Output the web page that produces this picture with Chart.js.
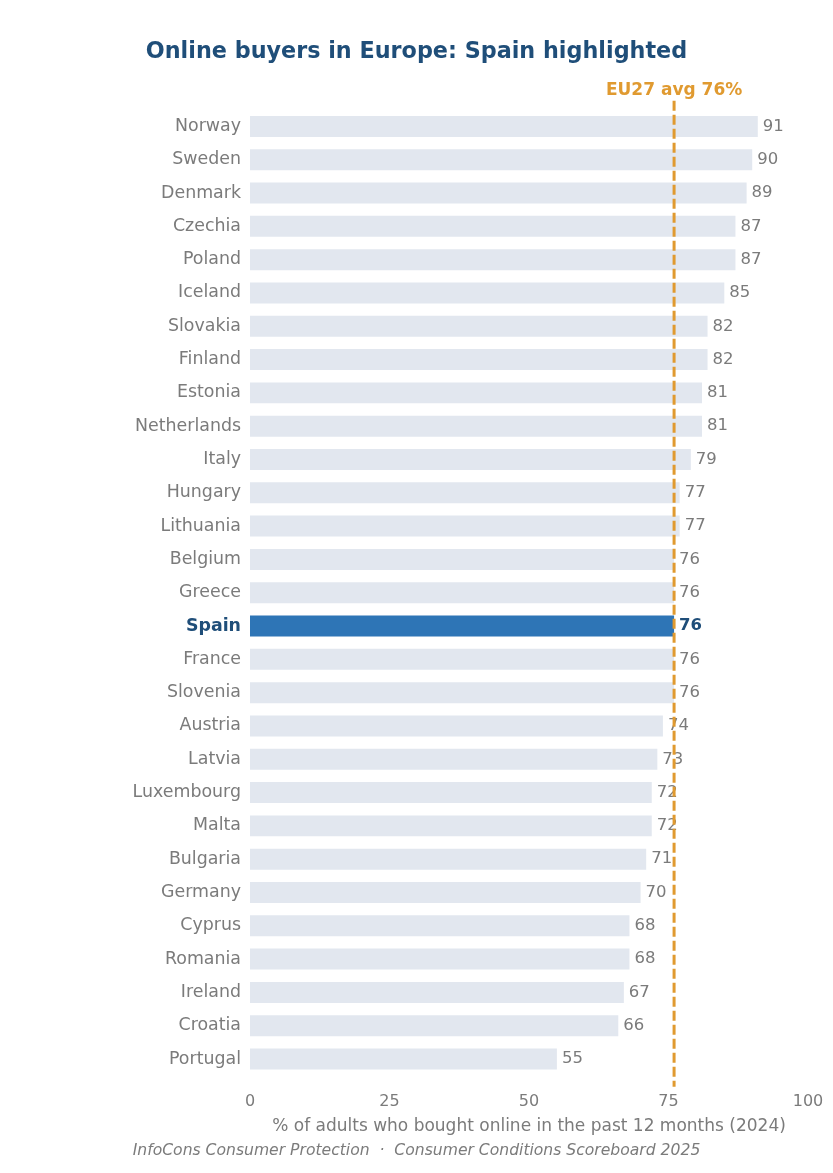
<!DOCTYPE html>
<html>
<head>
<meta charset="utf-8">
<script src="https://cdn.jsdelivr.net/npm/chart.js@4"></script>
<style>
  html, body { margin: 0; padding: 0; background: #fff; }
  #wrap { width: 833px; height: 1173px; }
</style>
</head>
<body>
<div id="wrap"><canvas id="myChart"></canvas></div>
<script>
const countries = [
  'Norway', 'Sweden', 'Denmark', 'Czechia', 'Poland', 'Iceland', 'Slovakia',
  'Finland', 'Estonia', 'Netherlands', 'Italy', 'Hungary', 'Lithuania',
  'Belgium', 'Greece', 'Spain', 'France', 'Slovenia', 'Austria', 'Latvia',
  'Luxembourg', 'Malta', 'Bulgaria', 'Germany', 'Cyprus', 'Romania',
  'Ireland', 'Croatia', 'Portugal'
];
const buyers = [91, 90, 89, 87, 87, 85, 82, 82, 81, 81, 79, 77, 77, 76, 76, 76,
  76, 76, 74, 73, 72, 72, 71, 70, 68, 68, 67, 66, 55];
const xTicks = [0, 25, 50, 75, 100];
const euAvg = 76;
const highlight = 'Spain';

const FONT = "'DejaVu Sans', sans-serif";
const GREY = '#7b7b7b';
const DARK = '#1f4e79';
const ORANGE = '#e09a30';

const barColors = countries.map(c => c === highlight ? '#2e75b6' : '#e2e7ef');

// value labels at bar ends
const valueLabels = {
  id: 'valueLabels',
  afterDatasetsDraw(chart) {
    const ctx = chart.ctx;
    const meta = chart.getDatasetMeta(0);
    ctx.save();
    ctx.textAlign = 'left';
    ctx.textBaseline = 'middle';
    meta.data.forEach((bar, i) => {
      const hi = countries[i] === highlight;
      ctx.font = (hi ? 'bold ' : '') + '16.5px ' + FONT;
      ctx.fillStyle = hi ? DARK : GREY;
      ctx.fillText(String(buyers[i]), bar.x + 5, bar.y);
    });
    ctx.restore();
  }
};

// EU average dashed line + label
const avgLine = {
  id: 'avgLine',
  afterDraw(chart) {
    const ctx = chart.ctx;
    const area = chart.chartArea;
    const x = chart.scales.x.getPixelForValue(euAvg);
    ctx.save();
    ctx.strokeStyle = ORANGE;
    ctx.lineWidth = 3;
    ctx.setLineDash([10, 4]);
    ctx.beginPath();
    ctx.moveTo(x, area.top - 9);
    ctx.lineTo(x, area.bottom + 11);
    ctx.stroke();
    ctx.setLineDash([]);
    ctx.font = 'bold 17px ' + FONT;
    ctx.fillStyle = ORANGE;
    ctx.textAlign = 'center';
    ctx.textBaseline = 'middle';
    ctx.fillText('EU27 avg ' + euAvg + '%', x, area.top - 19);
    ctx.restore();
  }
};

const config = {
  type: 'bar',
  data: {
    labels: countries,
    datasets: [{
      data: buyers,
      backgroundColor: barColors,
      borderWidth: 0,
      categoryPercentage: 1,
      barPercentage: 0.63
    }]
  },
  options: {
    indexAxis: 'y',
    responsive: true,
    maintainAspectRatio: false,
    animation: false,
    layout: { padding: 0 },
    plugins: {
      legend: { display: false },
      tooltip: { enabled: false },
      title: {
        display: true,
        text: 'Online buyers in Europe: Spain highlighted',
        color: DARK,
        font: { family: FONT, size: 22.3, weight: 'bold' },
        padding: { top: 39, bottom: 44 }
      },
      subtitle: {
        display: true,
        position: 'bottom',
        text: 'InfoCons Consumer Protection  \u00b7  Consumer Conditions Scoreboard 2025',
        color: GREY,
        font: { family: FONT, size: 15.6, style: 'italic' },
        padding: { top: 0, bottom: 13 }
      }
    },
    scales: {
      x: {
        min: 0,
        max: 100,
        afterBuildTicks(scale) {
          scale.ticks = xTicks.map(v => ({ value: v }));
        },
        afterFit(scale) {
          scale.paddingLeft = 0;
          scale.paddingRight = 25;
        },
        grid: { display: false, drawTicks: false },
        border: { display: false },
        ticks: {
          color: GREY,
          font: { family: FONT, size: 16 },
          padding: 17,
          maxRotation: 0
        },
        title: {
          display: true,
          text: '% of adults who bought online in the past 12 months (2024)',
          color: GREY,
          font: { family: FONT, size: 17 },
          padding: { top: -13, bottom: 5 }
        }
      },
      y: {
        afterFit(scale) { scale.width = 250; },
        grid: { display: false, drawTicks: false },
        border: { display: false },
        ticks: {
          padding: 9,
          color: ctx => countries[ctx.index] === highlight ? DARK : GREY,
          font: ctx => ({
            family: FONT,
            size: 17.4,
            weight: countries[ctx.index] === highlight ? 'bold' : 'normal'
          })
        }
      }
    }
  },
  plugins: [valueLabels, avgLine]
};

const myChart = new Chart(document.getElementById('myChart'), config);
</script>
</body>
</html>
